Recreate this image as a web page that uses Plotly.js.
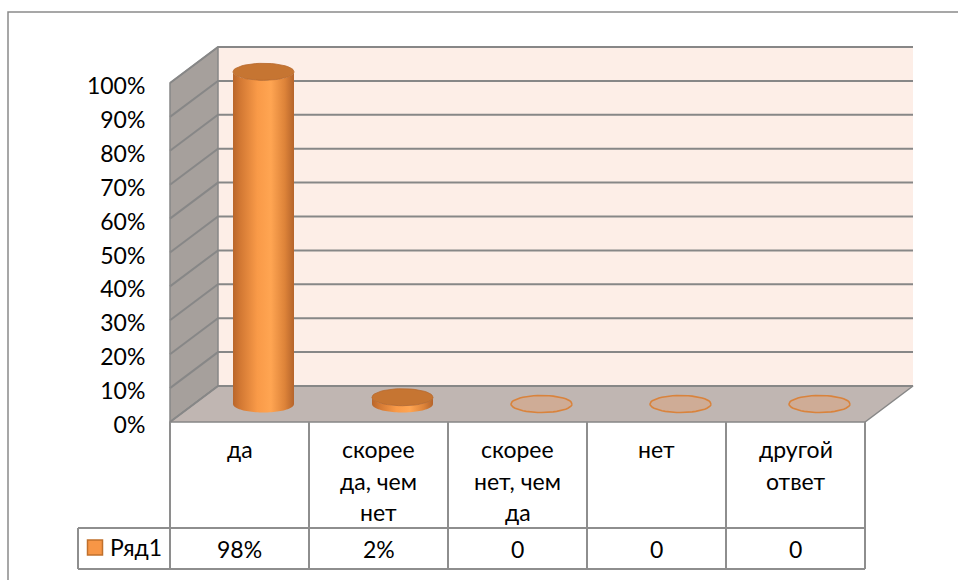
<!DOCTYPE html>
<html><head><meta charset="utf-8">
<script src="https://cdn.plot.ly/plotly-3.0.1.min.js"></script>
<style>html,body{margin:0;padding:0;background:#fff}#chart{width:958px;height:580px}</style>
</head><body><div id="chart"></div>
<script>
// ---- data ----
const categories = ['да', 'скорее<br>да, чем<br>нет', 'скорее<br>нет, чем<br>да', 'нет', 'другой<br>ответ'];
const values = [0.98, 0.02, 0, 0, 0];
const valueLabels = ['98%', '2%', '0', '0', '0'];
const seriesName = 'Ряд1';
const yTicks = [0, 0.1, 0.2, 0.3, 0.4, 0.5, 0.6, 0.7, 0.8, 0.9, 1.0];

// ---- geometry (pixel layout of the 3D frame) ----
const W = 958, H = 580;
const X0PX = 170, CATPX = 139, Y0PX = 422, UNITPX = 339;
const DX = 48 / CATPX, DY = 36 / UNITPX;
const px2x = p => -0.5 + (p - X0PX) / CATPX;
const px2y = p => (Y0PX - p) / UNITPX;
const xr = [px2x(0), px2x(W)];
const yr = [px2y(H), px2y(0)];
const n = categories.length;
const xL = -0.5, xR = n - 0.5;
const FONT = 'Lato, "Open Sans", sans-serif';
const GRID = '#878787';

const traces = [];
const base = {hoverinfo: 'skip', showlegend: false, type: 'scatter'};

// back wall
traces.push(Object.assign({}, base, {
  x: [xL + DX, xR + DX, xR + DX, xL + DX], y: [DY, DY, 1 + DY, 1 + DY],
  fill: 'toself', fillcolor: '#fdeee7', mode: 'none'
}));
// side wall
traces.push(Object.assign({}, base, {
  x: [xL, xL + DX, xL + DX, xL, xL], y: [0, DY, 1 + DY, 1, 0],
  fill: 'toself', fillcolor: '#a6a09c', mode: 'lines', line: {color: GRID, width: 1.5}
}));
// floor
traces.push(Object.assign({}, base, {
  x: [xL, xR, xR + DX, xL + DX, xL], y: [0, 0, DY, DY, 0],
  fill: 'toself', fillcolor: '#c0b6b2', mode: 'lines', line: {color: GRID, width: 1.5}
}));
// gridlines
const gx = [], gy = [];
yTicks.forEach(v => {
  gx.push(xL, xL + DX, xR + DX, null);
  gy.push(v, v + DY, v + DY, null);
});
traces.push(Object.assign({}, base, {x: gx, y: gy, mode: 'lines', line: {color: GRID, width: 2}}));

// cylinders
const A = 30.5 / CATPX, B = 8.5 / UNITPX, NP = 48;
function ell(cx, cy, t0, t1) {
  const xs = [], ys = [];
  for (let k = 0; k <= NP; k++) {
    const t = t0 + (t1 - t0) * k / NP;
    xs.push(cx + A * Math.cos(t)); ys.push(cy + B * Math.sin(t));
  }
  return [xs, ys];
}
values.forEach((v, i) => {
  const cx = i + DX / 2, cy = DY / 2;
  if (v > 0) {
    const top = cy + v;
    const lo = ell(cx, cy, Math.PI, 2 * Math.PI);
    const hi = ell(cx, top, 2 * Math.PI, Math.PI);
    traces.push(Object.assign({}, base, {
      x: [cx - A].concat(lo[0], [cx + A], hi[0]),
      y: [top].concat(lo[1], [top], hi[1]),
      fill: 'toself', mode: 'none',
      fillgradient: {type: 'horizontal', colorscale: [
        [0, '#b9662b'], [0.12, '#d27833'], [0.4, '#f99a48'], [0.62, '#ffa552'], [0.85, '#dd8339'], [1, '#b5642b']]}
    }));
    const tp = ell(cx, top, 0, 2 * Math.PI);
    traces.push(Object.assign({}, base, {
      x: tp[0], y: tp[1], fill: 'toself', fillcolor: '#c67532',
      mode: 'lines', line: {color: '#b8682c', width: 0.8}
    }));
  } else {
    const e = ell(cx, cy, 0, 2 * Math.PI);
    traces.push(Object.assign({}, base, {
      x: e[0], y: e[1], fill: 'toself', fillcolor: 'rgba(226,160,115,0.45)',
      mode: 'lines', line: {color: '#d9833c', width: 1.6}
    }));
  }
});

// legend key in table
traces.push(Object.assign({}, base, {
  x: [px2x(95)], y: [px2y(547.5)], mode: 'markers',
  marker: {symbol: 'square', size: 15, color: '#f79646', line: {color: '#c0702c', width: 1.5}}
}));

// table lines
const yMid = px2y(528), yBot = px2y(569), xLeg = px2x(78);
const shapes = [];
const TL = {color: '#8e8e8e', width: 2};
for (let i = 0; i <= n; i++) {
  shapes.push({type: 'line', xref: 'x', yref: 'y', x0: xL + i, x1: xL + i, y0: 0, y1: yBot, line: TL});
}
shapes.push({type: 'line', xref: 'x', yref: 'y', x0: xLeg, x1: xR, y0: yMid, y1: yMid, line: TL});
shapes.push({type: 'line', xref: 'x', yref: 'y', x0: xLeg, x1: xR, y0: yBot, y1: yBot, line: TL});
shapes.push({type: 'line', xref: 'x', yref: 'y', x0: xLeg, x1: xLeg, y0: yMid, y1: yBot, line: TL});
// outer chart border
shapes.push({type: 'rect', xref: 'paper', yref: 'paper', x0: 8 / W, x1: 1.02, y0: -0.02, y1: 1 - 12 / H,
  line: {color: '#8a8a8a', width: 1.5}});

// annotations: category labels & values
const annotations = [];
const lineY = [449, 480.5, 512];
categories.forEach((c, i) => {
  c.split('<br>').forEach((t, k) => {
    annotations.push({x: i, y: px2y(lineY[k]), xref: 'x', yref: 'y', text: t, showarrow: false,
      xanchor: 'center', yanchor: 'middle', font: {family: FONT, size: 23, color: '#000'}});
  });
  annotations.push({x: i, y: px2y(549), xref: 'x', yref: 'y', text: valueLabels[i], showarrow: false,
    xanchor: 'center', yanchor: 'middle', font: {family: FONT, size: 23, color: '#000'}});
});
annotations.push({x: px2x(108), y: px2y(547), xref: 'x', yref: 'y', text: seriesName, showarrow: false,
  xanchor: 'left', yanchor: 'middle', font: {family: FONT, size: 23, color: '#000'}});

const layout = {
  width: W, height: H,
  margin: {l: 0, r: 0, t: 0, b: 0, pad: 0},
  paper_bgcolor: '#fff', plot_bgcolor: '#fff',
  showlegend: false,
  xaxis: {range: xr, visible: false, fixedrange: true},
  yaxis: {range: yr, anchor: 'free', position: X0PX / W, showgrid: false, zeroline: false, showline: false,
    tickvals: yTicks, tickformat: '.0%', ticks: 'outside', ticklen: 20, tickcolor: 'rgba(0,0,0,0)',
    ticklabelshift: 3,
    tickfont: {family: FONT, size: 23, color: '#000'}, fixedrange: true},
  shapes: shapes,
  annotations: annotations
};
Plotly.newPlot('chart', traces, layout, {displayModeBar: false, staticPlot: true});
</script></body></html>
